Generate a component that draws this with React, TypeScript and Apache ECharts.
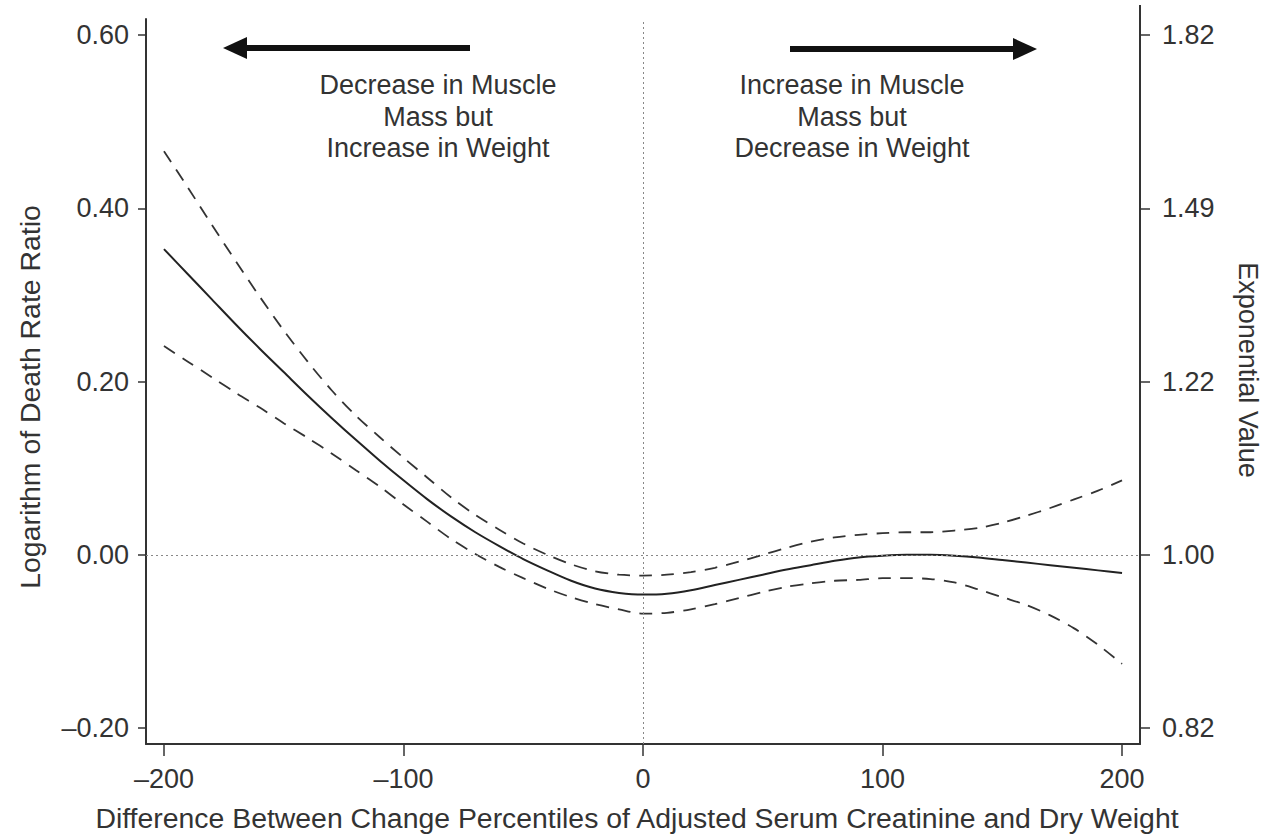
import React, { useEffect, useRef } from "react";
import * as echarts from "echarts";

const xValues = [-200, -190, -180, -170, -160, -150, -140, -130, -120, -110, -100, -90, -80, -70, -60, -50, -40, -30, -20, -10, 0, 10, 20, 30, 40, 50, 60, 70, 80, 90, 100, 110, 120, 130, 140, 150, 160, 170, 180, 190, 200];

const estimate = [0.353, 0.324, 0.295, 0.266, 0.238, 0.211, 0.184, 0.158, 0.133, 0.109, 0.086, 0.064, 0.044, 0.026, 0.010, -0.005, -0.018, -0.030, -0.039, -0.044, -0.046, -0.045, -0.041, -0.035, -0.029, -0.023, -0.017, -0.012, -0.007, -0.003, -0.001, 0.000, 0.000, -0.001, -0.003, -0.006, -0.009, -0.012, -0.015, -0.018, -0.021];

const upperCI = [0.466, 0.424, 0.381, 0.339, 0.298, 0.259, 0.223, 0.190, 0.161, 0.136, 0.112, 0.089, 0.066, 0.046, 0.029, 0.013, 0.000, -0.011, -0.019, -0.023, -0.024, -0.023, -0.020, -0.015, -0.008, 0.000, 0.008, 0.015, 0.020, 0.023, 0.025, 0.026, 0.026, 0.028, 0.031, 0.037, 0.045, 0.054, 0.064, 0.074, 0.086];

const lowerCI = [0.241, 0.223, 0.205, 0.187, 0.170, 0.152, 0.135, 0.117, 0.098, 0.079, 0.058, 0.038, 0.018, 0.001, -0.014, -0.027, -0.039, -0.049, -0.057, -0.063, -0.068, -0.067, -0.063, -0.057, -0.050, -0.043, -0.037, -0.033, -0.030, -0.029, -0.027, -0.027, -0.028, -0.032, -0.040, -0.049, -0.058, -0.070, -0.085, -0.104, -0.126];

const xTicks = [-200, -100, 0, 100, 200];
const yTicks = [-0.2, 0, 0.2, 0.4, 0.6];

const leftNote = ["Decrease in Muscle", "Mass but", "Increase in Weight"];
const rightNote = ["Increase in Muscle", "Mass but", "Decrease in Weight"];
const xTitle = "Difference Between Change Percentiles of Adjusted Serum Creatinine and Dry Weight";
const yTitle = "Logarithm of Death Rate Ratio";
const y2Title = "Exponential Value";

const FONT = "'Liberation Sans', Arial, Helvetica, sans-serif";
const TXT = "#333";
const FS = 27;
const FT = 28.4;

const fmtMinus = (s: string) => s.replace("-", "\u2013");

export default function App() {
  const ref = useRef<HTMLDivElement>(null);
  useEffect(() => {
    if (!ref.current) return;
    const chart = echarts.init(ref.current, null, { renderer: "svg" });
    const pairs = (arr: number[]) => xValues.map((x, i) => [x, arr[i]]);
    const axisCommon = {
      type: "value" as const,
      min: -0.2185,
      max: 0.6187,
      splitLine: { show: false },
      axisLine: { show: true, onZero: false, lineStyle: { color: "#333", width: 2 } },
    };
    const noteTexts = (lines: string[], cx: number) =>
      lines.map((t, i) => ({
        type: "text",
        x: cx,
        y: 85 + i * 31.5,
        style: { text: t, font: `${FS}px ${FONT}`, fill: TXT, textAlign: "center", textVerticalAlign: "middle" },
      }));
    chart.setOption({
      animation: false,
      backgroundColor: "#fff",
      grid: { left: 146, right: 125, top: 19, bottom: 93, containLabel: false },
      xAxis: {
        type: "value",
        min: -207.5,
        max: 207.5,
        splitLine: { show: false },
        axisLine: { show: true, onZero: false, lineStyle: { color: "#333", width: 2 } },
        axisTick: { show: true, length: 12, customValues: xTicks, lineStyle: { color: "#333", width: 1.5 } },
        axisLabel: {
          customValues: xTicks,
          margin: 21,
          fontSize: FS,
          fontFamily: FONT,
          color: TXT,
          formatter: (v: number) => fmtMinus(String(v)),
        },
      },
      yAxis: [
        {
          ...axisCommon,
          position: "left",
          axisTick: { show: true, length: 8, customValues: yTicks, lineStyle: { color: "#333", width: 1.5 } },
          axisLabel: {
            customValues: yTicks,
            margin: 17,
            fontSize: FS,
            fontFamily: FONT,
            color: TXT,
            formatter: (v: number) => fmtMinus(v.toFixed(2)),
          },
        },
        {
          ...axisCommon,
          position: "right",
          axisTick: { show: true, length: 10, customValues: yTicks, lineStyle: { color: "#333", width: 1.5 } },
          axisLabel: {
            customValues: yTicks,
            margin: 22,
            fontSize: FS,
            fontFamily: FONT,
            color: TXT,
            formatter: (v: number) => Math.exp(v).toFixed(2),
          },
        },
      ],
      series: [
        {
          name: "Estimate",
          type: "line",
          data: pairs(estimate),
          smooth: 0.3,
          showSymbol: false,
          symbol: "none",
          lineStyle: { color: "#222", width: 2 },
          markLine: {
            silent: true,
            symbol: ["none", "none"],
            label: { show: false },
            lineStyle: { type: [2, 3], color: "#888", width: 1 },
            data: [{ xAxis: 0 }, { yAxis: 0 }],
          },
          z: 3,
        },
        {
          name: "Upper",
          type: "line",
          data: pairs(upperCI),
          smooth: 0.3,
          showSymbol: false,
          symbol: "none",
          lineStyle: { color: "#333", width: 1.8, type: [13, 9] },
        },
        {
          name: "Lower",
          type: "line",
          data: pairs(lowerCI),
          smooth: 0.3,
          showSymbol: false,
          symbol: "none",
          lineStyle: { color: "#333", width: 1.8, type: [13, 9] },
        },
      ],
      graphic: [
        { type: "line", shape: { x1: 1140, y1: 5, x2: 1140, y2: 20 }, style: { stroke: "#333", lineWidth: 2 } },
        { type: "line", shape: { x1: 470, y1: 48, x2: 240, y2: 48 }, style: { stroke: "#111", lineWidth: 6 } },
        { type: "polygon", shape: { points: [[223, 48], [247, 37], [247, 59]] }, style: { fill: "#111" } },
        { type: "line", shape: { x1: 790, y1: 49, x2: 1018, y2: 49 }, style: { stroke: "#111", lineWidth: 6 } },
        { type: "polygon", shape: { points: [[1037, 49], [1013, 38], [1013, 60]] }, style: { fill: "#111" } },
        ...noteTexts(leftNote, 438),
        ...noteTexts(rightNote, 852),
        {
          type: "text",
          x: 637,
          y: 818,
          style: { text: xTitle, font: `${FT}px ${FONT}`, fill: TXT, textAlign: "center", textVerticalAlign: "middle" },
        },
        {
          type: "text",
          x: 30,
          y: 397,
          rotation: Math.PI / 2,
          style: { text: yTitle, font: `${FT}px ${FONT}`, fill: TXT, textAlign: "center", textVerticalAlign: "middle" },
        },
        {
          type: "text",
          x: 1248,
          y: 370,
          rotation: -Math.PI / 2,
          style: { text: y2Title, font: `${FS}px ${FONT}`, fill: TXT, textAlign: "center", textVerticalAlign: "middle" },
        },
      ],
    });
    return () => chart.dispose();
  }, []);
  return (
    <div
      ref={ref}
      style={{ position: "fixed", left: 0, top: 0, width: 1265, height: 837, background: "#fff" }}
    />
  );
}
